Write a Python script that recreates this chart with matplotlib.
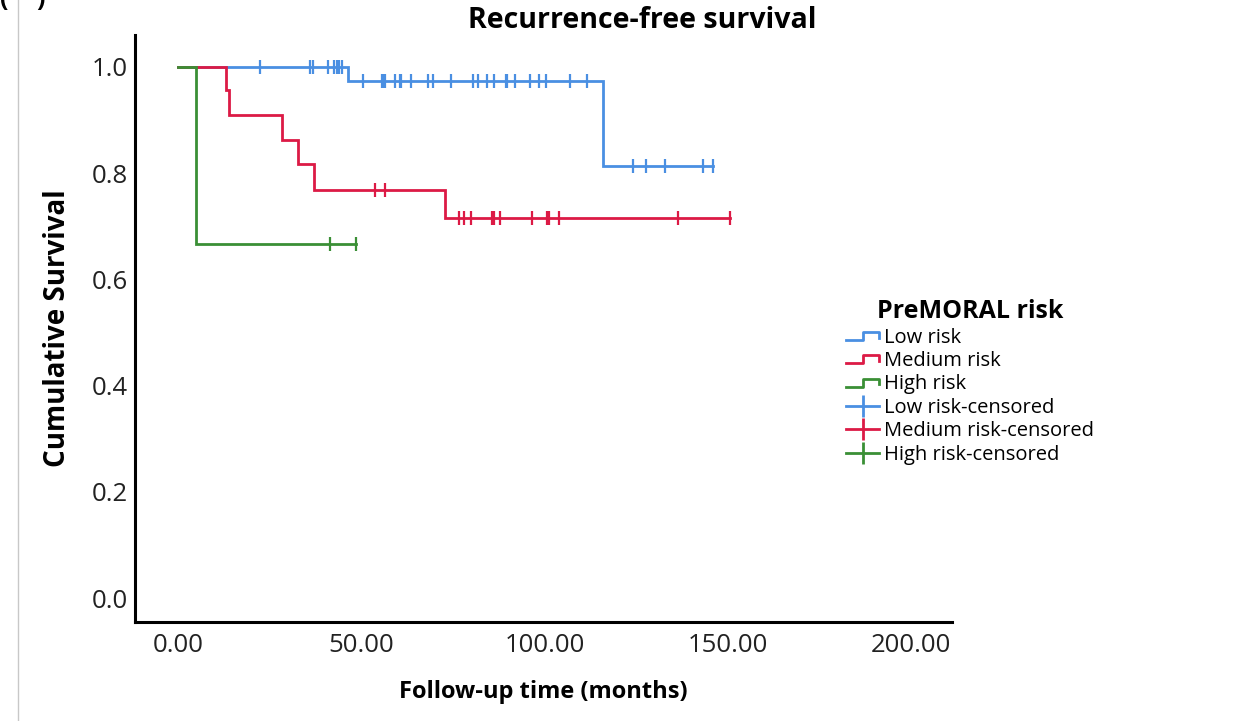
import numpy as np
import matplotlib
matplotlib.use("Agg")
import matplotlib.pyplot as plt
from matplotlib.lines import Line2D
from matplotlib.legend_handler import HandlerBase

plt.rcParams['font.family'] = ['Open Sans', 'DejaVu Sans']

# Kaplan-Meier steps (months, survival after the event)
low_events = [46.5, 116.1]
low_surv = [0.974, 0.813]
low_censored = [22.4, 36.0, 36.9, 41.0, 42.6, 43.3, 44.0, 44.8,
                50.6, 55.6, 56.0, 56.5, 59.2, 60.6, 61.0, 63.7, 68.3, 69.6,
                74.6, 80.6, 81.9, 84.3, 86.2, 89.5, 89.9, 92.0, 96.2, 98.6,
                100.4, 107.1, 111.7,
                124.2, 127.6, 132.9, 143.2, 146.1]

med_events = [13.1, 13.9, 28.4, 32.7, 37.0, 72.8]
med_surv = [0.957, 0.909, 0.862, 0.817, 0.768, 0.716]
med_censored = [53.8, 56.5, 76.8, 78.1, 79.9, 85.6, 86.3, 87.9, 96.7,
                100.6, 101.3, 103.9, 136.5, 150.6]

high_events = [4.9]
high_surv = [0.667]
high_censored = [41.5, 48.7]

groups = ['Low risk', 'Medium risk', 'High risk']
colors = ['#4a8fe2', '#dc1a45', '#3a8f35']

x_ticks = [0, 50, 100, 150, 200]
y_ticks = [0.0, 0.2, 0.4, 0.6, 0.8, 1.0]


def km_steps(ev, sv, cens):
    end = max(cens + ev)
    xs = [0] + ev + [end]
    ys = [1.0] + sv + [sv[-1]]
    idx = np.searchsorted(ev, cens, side='right')
    cy = np.array([1.0] + sv)[idx]
    return xs, ys, cy


class StepHandler(HandlerBase):
    # little step icon like the SPSS legend
    def create_artists(self, legend, orig_handle, xdescent, ydescent,
                       width, height, fontsize, trans):
        x0, x1 = -xdescent, -xdescent + width
        lo, hi = -ydescent + 0.2 * height, -ydescent + 0.75 * height
        xm = x0 + 0.5 * width
        ln = Line2D([x0, xm, xm, x1, x1], [lo, lo, hi, hi, lo + 0.15 * height],
                    color=orig_handle.get_color(), lw=2, transform=trans)
        return [ln]


fig = plt.figure(figsize=(12.42, 7.21), dpi=100)
ax = fig.add_axes([135 / 1242, 1 - 622 / 721, (952 - 135) / 1242, (622 - 35) / 721])

data = [(low_events, low_surv, low_censored),
        (med_events, med_surv, med_censored),
        (high_events, high_surv, high_censored)]

line_handles = []
cens_handles = []
for (ev, sv, cens), name, c in zip(data, groups, colors):
    xs, ys, cy = km_steps(ev, sv, cens)
    ln, = ax.step(xs, ys, where='post', color=c, lw=2, solid_joinstyle='miter')
    ax.plot(cens, cy, ls='none', marker='|', ms=9.5, mew=1.6, color=c)
    line_handles.append(ln)
    cens_handles.append(Line2D([], [], color=c, lw=2, marker='|', ms=16, mew=2))

ax.set_xlim(-11.7, 211.2)
ax.set_ylim(-0.045, 1.06)
ax.set_xticks(x_ticks)
ax.set_xticklabels(['%.2f' % v for v in x_ticks], fontsize=18.5)
ax.set_yticks(y_ticks)
ax.set_yticklabels(['%.1f' % v for v in y_ticks], fontsize=18.5)
ax.tick_params(length=0, colors='#222222')
ax.tick_params(axis='y', pad=5)
ax.tick_params(axis='x', pad=8)
for s in ['top', 'right']:
    ax.spines[s].set_visible(False)
for s in ['left', 'bottom']:
    ax.spines[s].set_linewidth(2.2)
ax.set_xlabel('Follow-up time (months)', fontsize=17, fontweight='bold', labelpad=16)
ax.set_ylabel('Cumulative Survival', fontsize=20, fontweight='bold', labelpad=14)

fig.text(642 / 1242, 1 - 20 / 721, 'Recurrence-free survival', fontsize=20.5,
         fontweight='bold', ha='center', va='center')

labels = groups + [g + '-censored' for g in groups]
leg = fig.legend(line_handles + cens_handles, labels,
                 loc='upper left', bbox_to_anchor=(828 / 1242, 1 - 281 / 721),
                 frameon=False, fontsize=14.5, title='PreMORAL risk',
                 title_fontproperties={'weight': 'bold', 'size': 18},
                 handlelength=1.65, handletextpad=0.25, labelspacing=0.17,
                 handler_map={h: StepHandler() for h in line_handles})

# panel border and cut-off panel letter
fig.add_artist(Line2D([18 / 1242, 18 / 1242], [0, 1], color='#c8c8c8', lw=1))
fig.text(0.0, 1.0, '(', fontsize=18, fontweight='bold', va='center', ha='left')
fig.text(36 / 1242, 1.0, ')', fontsize=18, fontweight='bold', va='center', ha='left')

fig.savefig('out.png', dpi=100)
